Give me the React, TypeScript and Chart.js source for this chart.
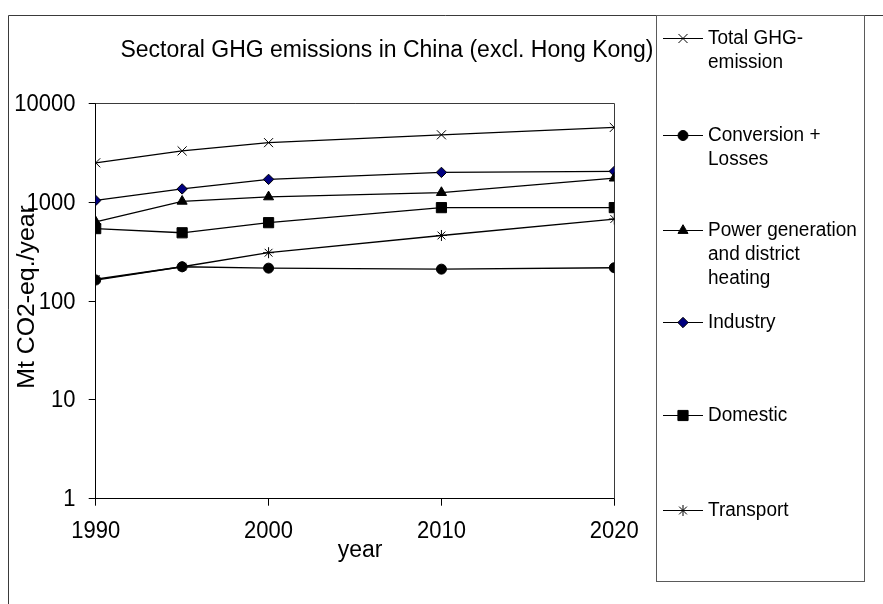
import React, { useEffect, useRef } from 'react';
import { Chart, registerables } from 'chart.js';

Chart.register(...registerables);

// Emissions in Mt CO2-eq./year
const years = [1990, 1995, 2000, 2010, 2020];
const totalGhg = [2500, 3300, 4000, 4800, 5700];
const conversionLosses = [163, 222, 215, 210, 217];
const powerGeneration = [632, 1020, 1130, 1250, 1750];
const industry = [1040, 1360, 1700, 2000, 2050];
const domestic = [540, 490, 620, 880, 880];
const transport = [166, 222, 308, 460, 675];

const yTickValues = [1, 10, 100, 1000, 10000];
const xTickValues = [1990, 2000, 2010, 2020];

const chartTitle = 'Sectoral GHG emissions in China (excl. Hong Kong)';
const yAxisTitle = 'Mt CO2-eq./year';
const xAxisTitle = 'year';

const FONT = "'Liberation Sans', Arial, sans-serif";
// glyphs are a little taller than wide in this chart's lettering
const TEXT_STRETCH = 1.08;

// Layout (pixels)
const PLOT = { left: 95.7, top: 103.3, right: 614.3, bottom: 498.7 };
const CANVAS_W = 883;
const CANVAS_H = 604;
const OUTER = { left: 8.5, top: 15.5 };
const LEGEND_BOX = { left: 656.5, top: 15.5, right: 864.5, bottom: 581.5 };
const LEGEND_ROWS = [38, 135, 230, 322, 415, 510];
const LEGEND_LINE_H = 24;

type MarkerKind = 'crossRot' | 'circle' | 'triangle' | 'rectRot' | 'rect' | 'star';

function drawMarker(
  ctx: CanvasRenderingContext2D,
  kind: MarkerKind,
  x: number,
  y: number,
  r: number,
  fill: string
) {
  ctx.save();
  ctx.strokeStyle = '#000';
  ctx.fillStyle = fill;
  ctx.lineWidth = 1;
  ctx.beginPath();
  if (kind === 'crossRot' || kind === 'star') {
    const d = r * Math.SQRT1_2;
    ctx.moveTo(x - d, y - d);
    ctx.lineTo(x + d, y + d);
    ctx.moveTo(x + d, y - d);
    ctx.lineTo(x - d, y + d);
    if (kind === 'star') {
      ctx.moveTo(x, y - r);
      ctx.lineTo(x, y + r);
      ctx.moveTo(x - r, y);
      ctx.lineTo(x + r, y);
    }
    ctx.stroke();
  } else if (kind === 'circle') {
    ctx.arc(x, y, r, 0, Math.PI * 2);
    ctx.fill();
    ctx.stroke();
  } else if (kind === 'triangle') {
    for (let i = 0; i < 3; i++) {
      const a = (i * 2 * Math.PI) / 3;
      const px = x + Math.sin(a) * r;
      const py = y - Math.cos(a) * r;
      if (i === 0) ctx.moveTo(px, py);
      else ctx.lineTo(px, py);
    }
    ctx.closePath();
    ctx.fill();
    ctx.stroke();
  } else if (kind === 'rectRot') {
    ctx.moveTo(x - r, y);
    ctx.lineTo(x, y - r);
    ctx.lineTo(x + r, y);
    ctx.lineTo(x, y + r);
    ctx.closePath();
    ctx.fill();
    ctx.stroke();
  } else {
    const s = r * Math.SQRT1_2;
    ctx.rect(x - s, y - s, 2 * s, 2 * s);
    ctx.fill();
    ctx.stroke();
  }
  ctx.restore();
}

// Draws text centred vertically on y, stretched along the glyph height.
function drawText(
  ctx: CanvasRenderingContext2D,
  text: string,
  x: number,
  y: number,
  size: number,
  align: CanvasTextAlign,
  rotated = false
) {
  ctx.save();
  ctx.translate(x, y);
  if (rotated) {
    ctx.rotate(-Math.PI / 2);
    ctx.scale(TEXT_STRETCH, 1);
  } else {
    ctx.scale(1, TEXT_STRETCH);
  }
  ctx.font = `${size}px ${FONT}`;
  ctx.fillStyle = '#000';
  ctx.textAlign = align;
  ctx.textBaseline = 'middle';
  ctx.fillText(text, 0, 0);
  ctx.restore();
}

export default function App() {
  const ref = useRef<HTMLCanvasElement>(null);

  useEffect(() => {
    const canvas = ref.current;
    if (!canvas) return;

    const series: {
      label: string[];
      values: number[];
      kind: MarkerKind;
      radius: number;
      fill: string;
    }[] = [
      { label: ['Total GHG-', 'emission'], values: totalGhg, kind: 'crossRot', radius: 6.4, fill: '#000' },
      { label: ['Conversion +', 'Losses'], values: conversionLosses, kind: 'circle', radius: 5, fill: '#000' },
      { label: ['Power generation', 'and district', 'heating'], values: powerGeneration, kind: 'triangle', radius: 5.8, fill: '#000' },
      { label: ['Industry'], values: industry, kind: 'rectRot', radius: 5.2, fill: '#000080' },
      { label: ['Domestic'], values: domestic, kind: 'rect', radius: 7.2, fill: '#000' },
      { label: ['Transport'], values: transport, kind: 'star', radius: 5.5, fill: '#000' },
    ];

    const decorations = {
      id: 'decorations',
      beforeDatasetsDraw(chart: Chart) {
        const { ctx, chartArea } = chart;
        ctx.save();
        ctx.strokeStyle = '#3a3a3a';
        ctx.lineWidth = 1;
        ctx.beginPath();
        ctx.moveTo(chartArea.left, Math.round(chartArea.top) + 0.5);
        ctx.lineTo(Math.round(chartArea.right) + 0.5, Math.round(chartArea.top) + 0.5);
        ctx.lineTo(Math.round(chartArea.right) + 0.5, chartArea.bottom);
        ctx.stroke();
        ctx.restore();
      },
      afterDraw(chart: Chart) {
        const { ctx, chartArea } = chart;
        const xs: any = chart.scales.x;
        const ys: any = chart.scales.y;
        ctx.save();
        // outer frame of the chart
        ctx.strokeStyle = '#3a3a3a';
        ctx.lineWidth = 1;
        ctx.beginPath();
        ctx.moveTo(OUTER.left, CANVAS_H);
        ctx.lineTo(OUTER.left, OUTER.top);
        ctx.lineTo(CANVAS_W, OUTER.top);
        ctx.stroke();

        // legend box
        ctx.strokeStyle = '#5a5a5a';
        ctx.strokeRect(
          LEGEND_BOX.left,
          LEGEND_BOX.top,
          LEGEND_BOX.right - LEGEND_BOX.left,
          LEGEND_BOX.bottom - LEGEND_BOX.top
        );

        // title
        drawText(ctx, chartTitle, 387, 50, 23, 'center');

        // axis tick labels
        xTickValues.forEach((v) => {
          drawText(ctx, String(v), xs.getPixelForValue(v), 531, 22, 'center');
        });
        yTickValues.forEach((v) => {
          drawText(ctx, String(v), 75.5, ys.getPixelForValue(v) + 1, 22, 'right');
        });

        // axis titles
        drawText(ctx, xAxisTitle, (chartArea.left + chartArea.right) / 2 + 5, 550, 23, 'center');
        drawText(ctx, yAxisTitle, 28, 297, 23, 'center', true);

        // legend entries
        series.forEach((s, i) => {
          const y = LEGEND_ROWS[i];
          ctx.strokeStyle = '#000';
          ctx.lineWidth = 1;
          ctx.beginPath();
          ctx.moveTo(663, Math.round(y) + 0.5);
          ctx.lineTo(703, Math.round(y) + 0.5);
          ctx.stroke();
          drawMarker(ctx, s.kind, 683, Math.round(y) + 0.5, s.radius, s.fill);
          s.label.forEach((line, j) => {
            drawText(ctx, line, 708, y + j * LEGEND_LINE_H, 19, 'left');
          });
        });
        ctx.restore();
      },
    };

    const chart = new Chart(canvas, {
      type: 'line',
      data: {
        datasets: series.map((s) => ({
          label: s.label.join(' '),
          data: years.map((yr, i) => ({ x: yr, y: s.values[i] })),
          borderColor: '#000',
          borderWidth: 1.3,
          backgroundColor: s.fill,
          pointBackgroundColor: s.fill,
          pointBorderColor: '#000',
          pointBorderWidth: 1,
          pointStyle: s.kind,
          pointRadius: s.radius,
          tension: 0,
          fill: false,
        })),
      },
      options: {
        animation: false,
        responsive: false,
        events: [],
        layout: {
          padding: {
            left: 0,
            top: PLOT.top,
            right: CANVAS_W - PLOT.right,
            bottom: 0,
          },
        },
        plugins: {
          legend: { display: false },
          tooltip: { enabled: false },
          title: { display: false },
        },
        scales: {
          x: {
            type: 'linear',
            position: 'bottom',
            min: 1990,
            max: 2020,
            afterBuildTicks: (scale: any) => {
              scale.ticks = xTickValues.map((v) => ({ value: v }));
            },
            afterFit: (scale: any) => {
              scale.height = CANVAS_H - PLOT.bottom;
            },
            ticks: {
              callback: (v: any) => String(v),
              font: { family: FONT, size: 22 },
              color: 'rgba(0,0,0,0)',
              padding: 12,
              maxRotation: 0,
              autoSkip: false,
            },
            grid: {
              drawOnChartArea: false,
              drawTicks: true,
              tickLength: 7,
              color: '#000',
            },
            border: { display: true, color: '#000', width: 1 },
            title: { display: false, text: xAxisTitle },
          },
          y: {
            type: 'logarithmic',
            position: 'left',
            min: 1,
            max: 10000,
            afterBuildTicks: (scale: any) => {
              scale.ticks = yTickValues.map((v) => ({ value: v }));
            },
            afterFit: (scale: any) => {
              scale.width = PLOT.left;
            },
            ticks: {
              callback: (v: any) => String(v),
              font: { family: FONT, size: 22 },
              color: 'rgba(0,0,0,0)',
              padding: 13,
              autoSkip: false,
            },
            grid: {
              drawOnChartArea: false,
              drawTicks: true,
              tickLength: 7,
              color: '#000',
            },
            border: { display: true, color: '#000', width: 1 },
            title: { display: false, text: yAxisTitle },
          },
        },
      },
      plugins: [decorations],
    } as any);

    return () => chart.destroy();
  }, []);

  return (
    <div
      style={{
        position: 'absolute',
        left: 0,
        top: 0,
        width: CANVAS_W,
        height: CANVAS_H,
        background: '#fff',
      }}
    >
      <canvas ref={ref} width={CANVAS_W} height={CANVAS_H} style={{ display: 'block' }} />
    </div>
  );
}
